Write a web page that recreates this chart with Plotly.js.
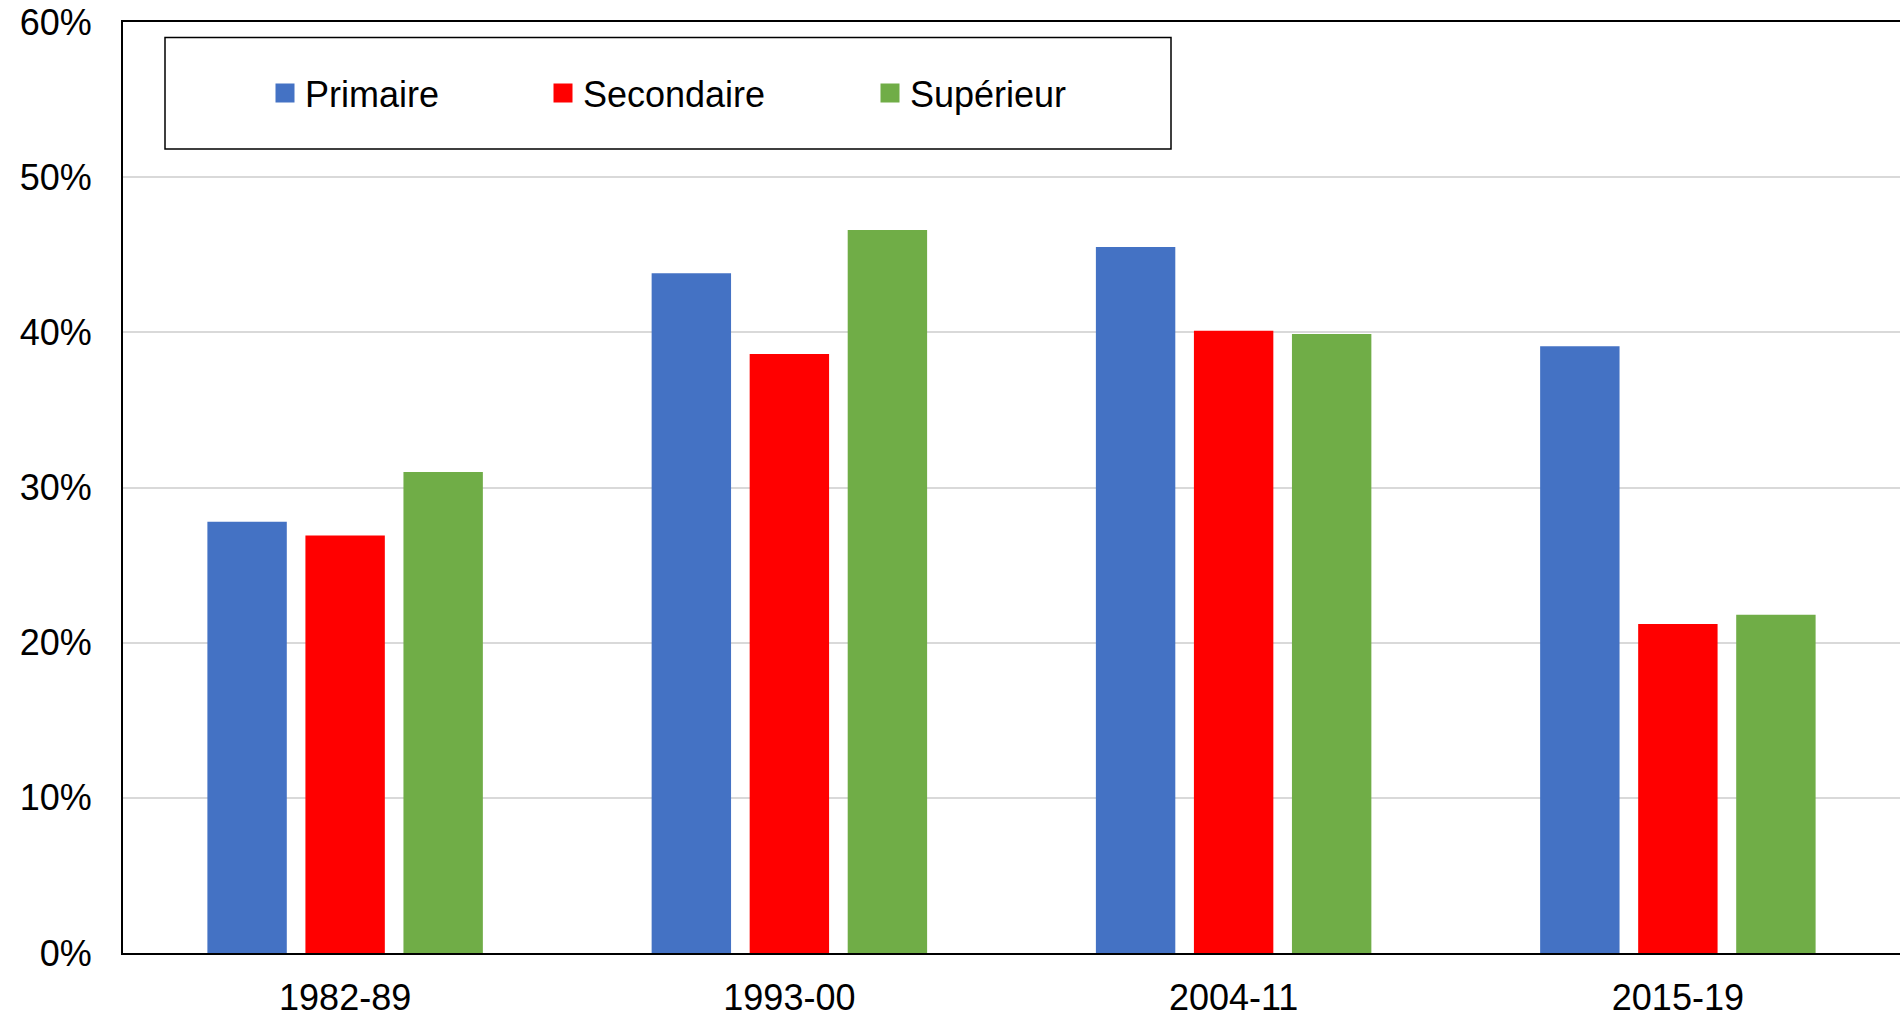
<!DOCTYPE html>
<html>
<head>
<meta charset="utf-8">
<script src="https://cdn.plot.ly/plotly-3.0.1.min.js"></script>
<style>html,body{margin:0;padding:0;background:#fff;}#chart{width:1901px;height:1015px;}</style>
</head>
<body>
<div id="chart"></div>
<script>
const periods = ['1982-89', '1993-00', '2004-11', '2015-19'];
const primaire = [0.278, 0.438, 0.455, 0.391];
const secondaire = [0.269, 0.386, 0.401, 0.212];
const superieur = [0.310, 0.466, 0.399, 0.218];
const seriesNames = ['Primaire', 'Secondaire', 'Supérieur'];
const seriesColors = ['#4472C4', '#FF0000', '#70AD47'];
const yTickVals = [0, 0.1, 0.2, 0.3, 0.4, 0.5, 0.6];

const FONT = 'Liberation Sans, Arial, sans-serif';
const FS = 36;
const seriesData = [primaire, secondaire, superieur];
const legendIds = ['legend', 'legend2', 'legend3'];

const traces = [];
seriesData.forEach((vals, i) => {
  traces.push({
    type: 'bar', x: periods, y: vals, name: seriesNames[i],
    marker: {color: seriesColors[i]}, showlegend: false, hoverinfo: 'x+y+name'
  });
});
seriesData.forEach((vals, i) => {
  traces.push({
    type: 'scatter', mode: 'markers', x: [null], y: [null], name: seriesNames[i],
    marker: {symbol: 'square', size: 16, color: seriesColors[i], line: {color: seriesColors[i], width: 3}},
    legend: legendIds[i], showlegend: true
  });
});

const plotL = 123, plotR = 1900, plotT = 22, plotB = 953;
const W = plotR - plotL, H = plotB - plotT;
const px = v => (v - plotL) / W;
const py = v => (plotB - v) / H;

function legendCfg(xpix) {
  return {
    x: px(xpix), xanchor: 'left', y: py(93), yanchor: 'middle',
    orientation: 'h', bgcolor: 'rgba(0,0,0,0)', borderwidth: 0,
    font: {family: FONT, size: FS, color: '#000'}
  };
}

const layout = {
  width: 1901, height: 1015,
  margin: {l: plotL, r: 1901 - plotR, t: plotT, b: 1015 - plotB, pad: 0},
  paper_bgcolor: '#fff', plot_bgcolor: '#fff',
  font: {family: FONT, size: FS, color: '#000'},
  barmode: 'group', bargap: 0.338, bargroupgap: 0.19,
  showlegend: true,
  legend: legendCfg(265),
  legend2: legendCfg(543),
  legend3: legendCfg(870),
  xaxis: {
    type: 'category', showline: true, linecolor: '#000', linewidth: 2, mirror: true,
    ticks: '', showgrid: false, zeroline: false,
    tickfont: {family: FONT, size: FS, color: '#000'}, ticklabelstandoff: 12
  },
  yaxis: {
    range: [0, 0.6], tickvals: yTickVals, tickformat: '.0%',
    showline: true, linecolor: '#000', linewidth: 2, mirror: false,
    ticks: '', showgrid: true, gridcolor: '#d9d9d9', gridwidth: 2, zeroline: false,
    tickfont: {family: FONT, size: FS, color: '#000'}, ticklabelstandoff: 22
  },
  shapes: [{
    type: 'rect', xref: 'paper', yref: 'paper',
    x0: px(165), x1: px(1171), y0: py(149), y1: py(37.6),
    line: {color: '#000', width: 1.5}, fillcolor: 'rgba(0,0,0,0)', layer: 'above'
  }]
};

Plotly.newPlot('chart', traces, layout, {displayModeBar: false, staticPlot: true});
</script>
</body>
</html>
